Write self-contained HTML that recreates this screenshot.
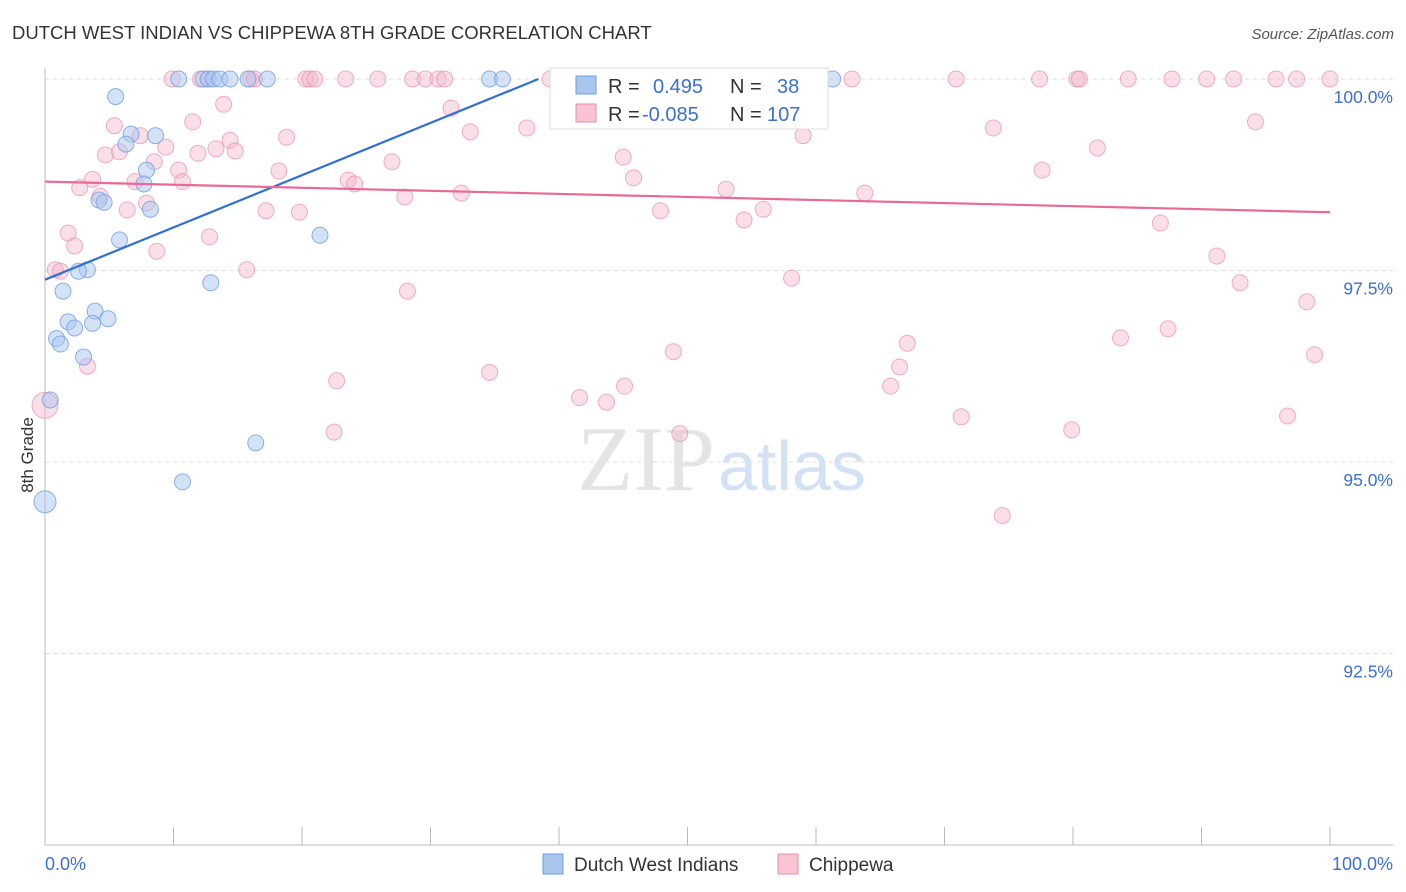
<!DOCTYPE html>
<html><head><meta charset="utf-8"><style>
body{margin:0;background:#fff;font-family:"Liberation Sans",sans-serif}
svg{display:block}
</style></head><body>
<svg id="c" width="1406" height="892" xmlns="http://www.w3.org/2000/svg">
<text x="12" y="39" font-size="18.5" fill="#333">DUTCH WEST INDIAN VS CHIPPEWA 8TH GRADE CORRELATION CHART</text>
<text x="1394" y="39" font-size="15" fill="#555" text-anchor="end" font-style="italic">Source: ZipAtlas.com</text>
<g id="grid"></g>
<text x="715" y="490" font-size="92" font-family="Liberation Serif,serif" fill="#e4e4e4" text-anchor="end">ZIP</text>
<text x="718" y="490" font-size="70" fill="#d3e1f4">atlas</text>
<g id="pts"></g>
<g id="trend"></g>
<text transform="translate(33,455) rotate(-90)" font-size="17" fill="#333" text-anchor="middle">8th Grade</text>
<text x="45" y="870" font-size="18" fill="#3b6fd4">0.0%</text>
<text x="1393" y="870" font-size="18" fill="#3b6fd4" text-anchor="end">100.0%</text>
<g>
<rect x="550" y="68" width="278" height="61" fill="#fff" stroke="#ddd"/>
<rect x="576" y="76" width="20" height="18" fill="#a9c6ef" stroke="#6f9fe0"/>
<rect x="576" y="104" width="20" height="18" fill="#f8c3d3" stroke="#ea8eaa"/>
<text x="608" y="93" font-size="20" fill="#333">R = <tspan fill="#3b6fd4" x="653">0.495</tspan><tspan x="730" fill="#333">N =</tspan><tspan x="777" fill="#3b6fd4">38</tspan></text>
<text x="608" y="121" font-size="20" fill="#333">R = <tspan fill="#3b6fd4" x="642">-0.085</tspan><tspan x="730" fill="#333">N =</tspan><tspan x="767" fill="#3b6fd4">107</tspan></text>
</g>
<g>
<rect x="543" y="854" width="20" height="20" fill="#a9c6ef" stroke="#6f9fe0"/>
<text x="574" y="871" font-size="19" fill="#333">Dutch West Indians</text>
<rect x="778" y="854" width="20" height="20" fill="#f8c3d3" stroke="#ea8eaa"/>
<text x="809" y="871" font-size="19" fill="#333">Chippewa</text>
</g>
</svg>
<script>
const yTicks=[100,97.5,95,92.5];
const yTickLabels=["100.0%","97.5%","95.0%","92.5%"];
const xTicks=[0,10,20,30,40,50,60,70,80,90,100];
const blueX=[10.4,12.3,12.7,13.1,13.6,14.4,15.8,17.3,34.6,35.6,61.3,5.5,6.7,8.6,6.3,7.9,7.7,4.2,4.6,8.2,5.8,21.4,3.3,2.6,12.9,1.4,3.9,4.9,1.8,3.7,2.3,0.9,1.2,3.0,0.4,16.4,10.7,0];
const blueY=[100,100,100,100,100,100,100,100,100,100,100,99.77,99.28,99.26,99.15,98.81,98.63,98.42,98.39,98.30,97.90,97.96,97.51,97.49,97.34,97.23,96.97,96.87,96.83,96.81,96.75,96.61,96.54,96.37,95.81,95.25,94.74,94.48];
const pinkX=[9.9,12.1,12.7,16.0,16.3,20.3,20.6,21.0,23.4,25.9,28.6,29.6,30.6,31.1,39.3,46.4,51.5,51.8,62.8,70.9,77.4,80.3,80.5,84.3,87.7,90.4,92.5,95.8,97.4,100,
13.9,31.6,5.4,11.5,37.5,33.1,73.8,94.2,7.4,18.8,14.4,81.9,4.7,9.4,5.8,11.9,13.3,14.8,59.0,45.0,8.5,27.0,10.4,18.2,77.6,3.7,2.7,7.0,10.7,23.6,24.1,45.8,53.0,4.3,28.0,32.4,63.8,7.9,6.4,17.2,19.8,47.9,54.4,55.9,86.8,1.8,12.8,2.3,8.7,91.2,0.8,1.2,15.7,58.1,93.0,28.2,98.2,87.4,83.7,67.1,48.9,98.8,3.3,66.5,34.6,22.7,65.8,45.1,41.6,43.7,0,96.7,71.3,22.5,49.4,79.9,74.5];
const pinkY=[100,100,100,100,100,100,100,100,100,100,100,100,100,100,100,100,100,100,100,100,100,100,100,100,100,100,100,100,100,100,
99.67,99.62,99.39,99.44,99.36,99.31,99.36,99.44,99.26,99.24,99.20,99.10,99.01,99.11,99.05,99.03,99.09,99.06,99.26,98.98,98.92,98.92,98.81,98.80,98.81,98.69,98.58,98.66,98.66,98.68,98.63,98.71,98.56,98.47,98.46,98.51,98.51,98.38,98.29,98.28,98.26,98.28,98.16,98.30,98.12,97.99,97.94,97.82,97.75,97.69,97.51,97.49,97.51,97.40,97.34,97.23,97.09,96.74,96.62,96.55,96.44,96.40,96.25,96.24,96.17,96.06,95.99,95.99,95.84,95.78,95.74,95.60,95.59,95.39,95.37,95.42,94.30];
const blueTrendX=[0,38.4], blueTrendY=[97.38,100];
const pinkTrendX=[0,100], pinkTrendY=[98.66,98.26];
const NS="http://www.w3.org/2000/svg";
const sx=v=>45+v*12.85, sy=v=>79+(100-v)*76.6;
function mk(t,a,p){const e=document.createElementNS(NS,t);for(const k in a)e.setAttribute(k,a[k]);p.appendChild(e);return e;}
const grid=document.getElementById('grid');
yTicks.forEach((t,i)=>{
 const l=mk('line',{x1:45,x2:1393,y1:sy(t),y2:sy(t),stroke:'#ddd','stroke-dasharray':'4,4'},grid);
 
 
 const tx=mk('text',{x:1393,y:sy(t)+24,'font-size':17.5,fill:'#3b6fd4','text-anchor':'end'},grid);
 tx.textContent=yTickLabels[i];
 
 
});
mk('line',{x1:45,x2:45,y1:68,y2:845,stroke:'#bbb'},grid);
mk('line',{x1:45,x2:1393,y1:845,y2:845,stroke:'#bbb'},grid);
xTicks.forEach(t=>{const l=mk('line',{x1:sx(t),x2:sx(t),y1:827,y2:845,stroke:'#bbb'},grid);
 
 });
const pts=document.getElementById('pts');
pinkX.forEach((x,i)=>{const big=(x===0&&pinkY[i]<96);
 const c=mk('circle',{cx:sx(x),cy:sy(pinkY[i]),r:big?13:8,fill:'#f5b8cb','fill-opacity':0.45,stroke:'#ea8eaa','stroke-opacity':0.7},pts);
 
 });
blueX.forEach((x,i)=>{const big=(x===0);
 const c=mk('circle',{cx:sx(x),cy:sy(blueY[i]),r:big?11:8,fill:'#a9c6ef','fill-opacity':0.5,stroke:'#6f9fe0','stroke-opacity':0.8},pts);
 
 });
const tr=document.getElementById('trend');
const b=mk('line',{x1:sx(blueTrendX[0]),y1:sy(blueTrendY[0]),x2:sx(blueTrendX[1]),y2:sy(blueTrendY[1]),stroke:'#2f6fd8','stroke-width':2.2},tr);


const p=mk('line',{x1:sx(pinkTrendX[0]),y1:sy(pinkTrendY[0]),x2:sx(pinkTrendX[1]),y2:sy(pinkTrendY[1]),stroke:'#e86a97','stroke-width':2.2},tr);


</script>
</body></html>
